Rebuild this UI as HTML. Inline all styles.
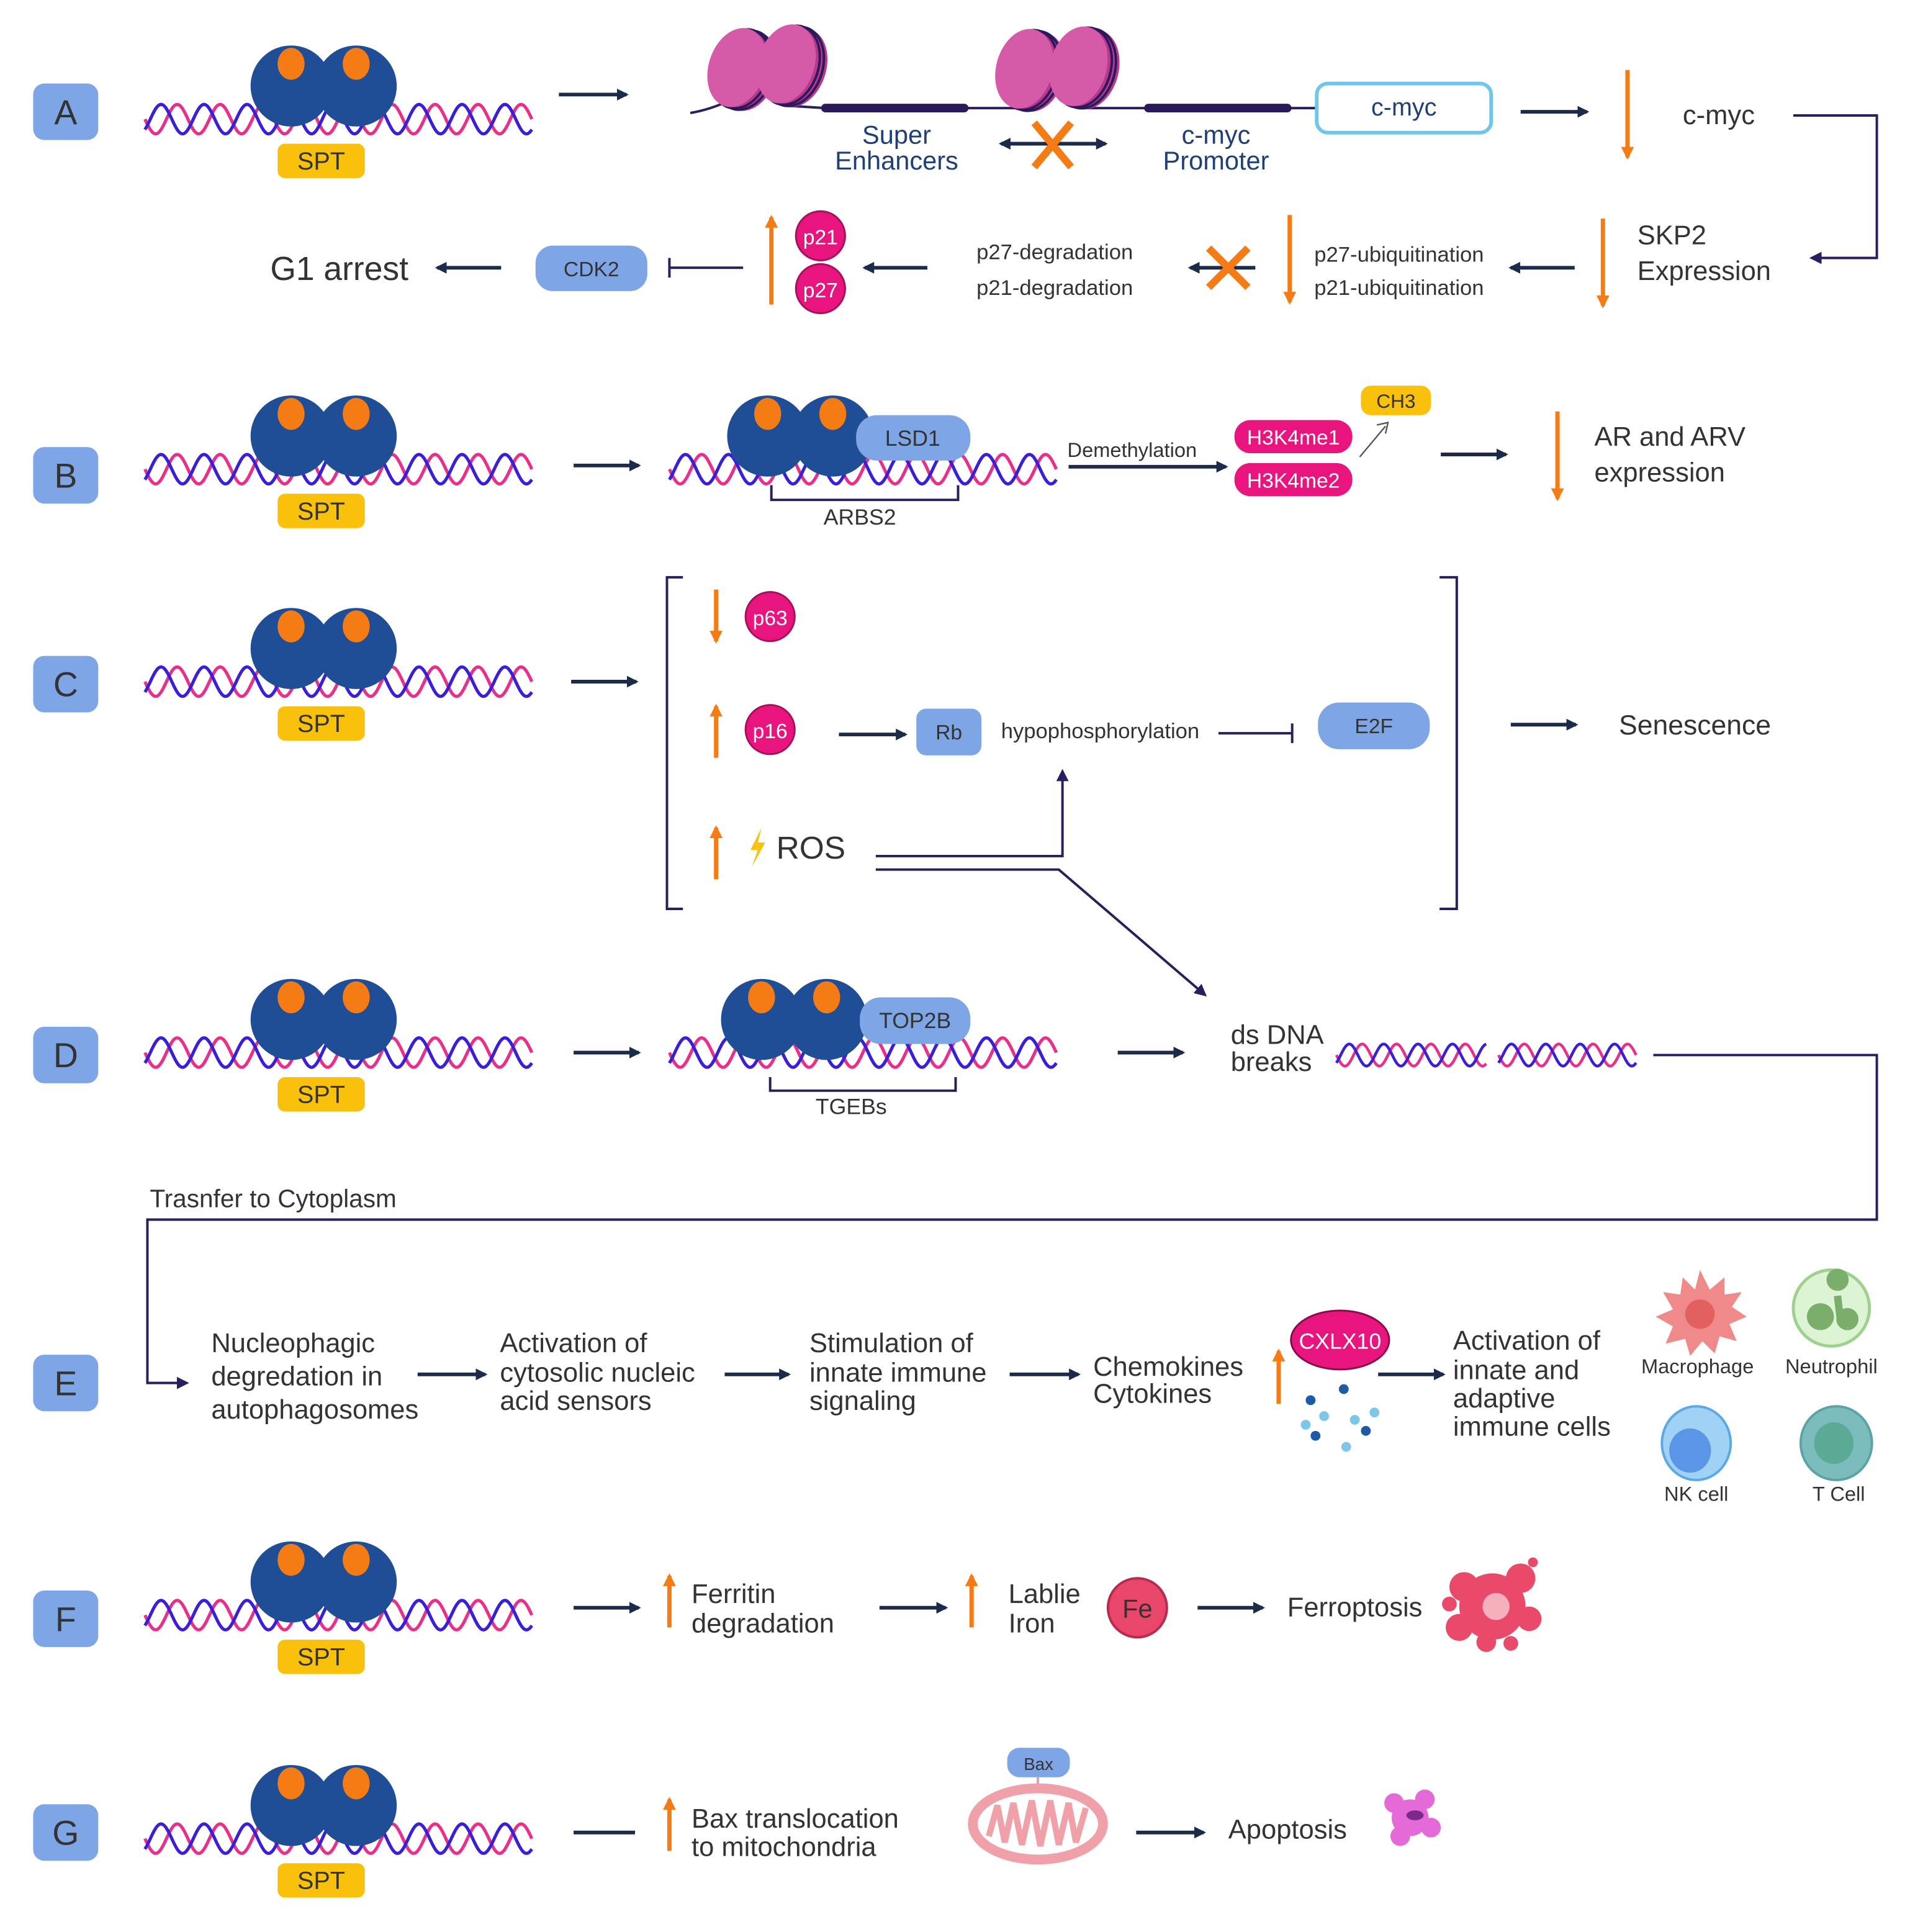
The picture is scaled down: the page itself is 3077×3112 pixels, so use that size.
<!DOCTYPE html>
<html><head><meta charset="utf-8">
<style>
html,body{margin:0;padding:0;background:#fff;}
svg{display:block;}
text{font-family:"Liberation Sans",sans-serif;fill:#333;}
</style></head>
<body>
<svg id="s" width="3077" height="3112" viewBox="0 0 1555 1573" preserveAspectRatio="none" xmlns="http://www.w3.org/2000/svg">
<defs>
<marker id="ah" viewBox="0 0 10 10" refX="8" refY="5" markerWidth="3.2" markerHeight="3.2" orient="auto-start-reverse"><path d="M0,0 L10,5 L0,10 z" fill="#1c2b4a"/></marker>
<marker id="ao" viewBox="0 0 10 10" refX="8" refY="5" markerWidth="3" markerHeight="3" orient="auto"><path d="M0,0 L10,5 L0,10 z" fill="#f57c15"/></marker>
<marker id="ap" viewBox="0 0 10 10" refX="8" refY="5" markerWidth="5" markerHeight="5" orient="auto"><path d="M0,0 L10,5 L0,10 z" fill="#2a1f5c"/></marker>
<g id="spt">
<circle cx="237" cy="-27" r="33" fill="#1f4e96"/>
<circle cx="290" cy="-27" r="33" fill="#1f4e96"/>
<ellipse cx="237" cy="-45" rx="11" ry="13" fill="#f57c15"/>
<ellipse cx="290" cy="-45" rx="11" ry="13" fill="#f57c15"/>
<rect x="226" y="20" width="71" height="28" rx="6" fill="#f9c10c"/>
<text x="261.5" y="41" font-size="20" text-anchor="middle" fill="#333">SPT</text>
</g>
<g id="nuc">
<ellipse cx="10" cy="0" rx="23" ry="33" fill="#b8388c"/>
<ellipse cx="7" cy="0" rx="23" ry="33" fill="none" stroke="#2a1a5c" stroke-width="2"/>
<ellipse cx="3.5" cy="0" rx="23" ry="33" fill="none" stroke="#2a1a5c" stroke-width="2"/>
<ellipse cx="0" cy="0" rx="23" ry="33" fill="#d55aa8"/>
</g>
</defs>
<style>
.a{stroke:#1c2b4a;stroke-width:3;fill:none;marker-end:url(#ah);}
.o{stroke:#f57c15;stroke-width:3.5;fill:none;marker-end:url(#ao);}
.l{stroke:#2a1f5c;stroke-width:2;fill:none;}
.lab{fill:#7ea6e6;}
.t{font-size:22px;}
.s{font-size:17.5px;}
.w{fill:#fff;}
</style>

<g>
<rect class="lab" x="27" y="68" width="53" height="46" rx="9"/><text x="53.5" y="101" font-size="28" text-anchor="middle">A</text>
<rect class="lab" x="27" y="364" width="53" height="46" rx="9"/><text x="53.5" y="397" font-size="28" text-anchor="middle">B</text>
<rect class="lab" x="27" y="534" width="53" height="46" rx="9"/><text x="53.5" y="567" font-size="28" text-anchor="middle">C</text>
<rect class="lab" x="27" y="836" width="53" height="46" rx="9"/><text x="53.5" y="869" font-size="28" text-anchor="middle">D</text>
<rect class="lab" x="27" y="1103" width="53" height="46" rx="9"/><text x="53.5" y="1136" font-size="28" text-anchor="middle">E</text>
<rect class="lab" x="27" y="1295" width="53" height="46" rx="9"/><text x="53.5" y="1328" font-size="28" text-anchor="middle">F</text>
<rect class="lab" x="27" y="1469" width="53" height="46" rx="9"/><text x="53.5" y="1502" font-size="28" text-anchor="middle">G</text>
</g>

<g id="helices"></g>

<use href="#spt" y="97"/>
<use href="#spt" y="382"/>
<use href="#spt" y="555"/>
<use href="#spt" y="857"/>
<use href="#spt" y="1315"/>
<use href="#spt" y="1497"/>

<!-- ROW A -->
<line class="a" x1="455" y1="77" x2="510" y2="77"/>
<path class="l" d="M562,92 C585,88 595,80 605,78 M640,86 L672,88 M785,88 L830,88 M880,88 L935,88 M1048,88 L1072,88"/>
<line x1="672" y1="88" x2="785" y2="88" stroke="#2a1a5c" stroke-width="7" stroke-linecap="round"/>
<line x1="935" y1="88" x2="1048" y2="88" stroke="#2a1a5c" stroke-width="7" stroke-linecap="round"/>
<use href="#nuc" transform="translate(600,55) rotate(18)"/>
<use href="#nuc" transform="translate(640,52) rotate(18)"/>
<use href="#nuc" transform="translate(834,56) rotate(15)"/>
<use href="#nuc" transform="translate(878,54) rotate(15)"/>
<text x="730" y="117" font-size="21" text-anchor="middle" style="fill:#1f3f7a">Super</text>
<text x="730" y="138" font-size="21" text-anchor="middle" style="fill:#1f3f7a">Enhancers</text>
<text x="990" y="117" font-size="21" text-anchor="middle" style="fill:#1f3f7a">c-myc</text>
<text x="990" y="138" font-size="21" text-anchor="middle" style="fill:#1f3f7a">Promoter</text>
<line x1="815" y1="117" x2="900" y2="117" stroke="#1c2b4a" stroke-width="3" marker-start="url(#ah)" marker-end="url(#ah)"/>
<path d="M842,100 L872,136 M872,100 L842,136" stroke="#f57c15" stroke-width="6"/>
<rect x="1072" y="68" width="142" height="40" rx="9" fill="#fff" stroke="#6ec6ea" stroke-width="3"/>
<text x="1143" y="94" font-size="20" text-anchor="middle" style="fill:#1f3f7a">c-myc</text>
<line class="a" x1="1238" y1="91" x2="1292" y2="91"/>
<line class="o" x1="1325" y1="57" x2="1325" y2="128"/>
<text x="1370" y="101" class="t">c-myc</text>
<polyline points="1460,94 1528,94 1528,210 1475,210" class="l" marker-end="url(#ap)"/>
<text x="1333" y="199" class="t">SKP2</text>
<text x="1333" y="228" class="t">Expression</text>
<line class="o" x1="1305" y1="178" x2="1305" y2="249"/>
<line class="a" x1="1282" y1="218" x2="1230" y2="218"/>
<text x="1070" y="213" class="s">p27-ubiquitination</text>
<text x="1070" y="240" class="s">p21-ubiquitination</text>
<line class="o" x1="1050" y1="175" x2="1050" y2="246"/>
<line class="a" x1="1022" y1="218" x2="969" y2="218"/>
<path d="M984,202 L1016,234 M1016,202 L984,234" stroke="#f57c15" stroke-width="6"/>
<text x="795" y="211" class="s">p27-degradation</text>
<text x="795" y="240" class="s">p21-degradation</text>
<line class="a" x1="755" y1="218" x2="704" y2="218"/>
<circle cx="668" cy="192" r="20" fill="#e8157f" stroke="#a5105a" stroke-width="1.5"/><text x="668" y="199" font-size="17" text-anchor="middle" class="w">p21</text>
<circle cx="668" cy="235" r="20" fill="#e8157f" stroke="#a5105a" stroke-width="1.5"/><text x="668" y="242" font-size="17" text-anchor="middle" class="w">p27</text>
<line x1="628" y1="248" x2="628" y2="177" stroke="#f57c15" stroke-width="3.5" marker-end="url(#ao)"/>
<line class="l" x1="605" y1="218" x2="545" y2="218"/><line class="l" x1="545" y1="210" x2="545" y2="226"/>
<rect x="436" y="200" width="91" height="37" rx="14" fill="#7ea6e6"/><text x="481.5" y="225" font-size="17" text-anchor="middle">CDK2</text>
<line class="a" x1="408" y1="218" x2="356" y2="218"/>
<text x="220" y="228" font-size="27">G1 arrest</text>

<!-- ROW B -->
<line class="a" x1="467" y1="379" x2="520" y2="379"/>
<circle cx="625" cy="355" r="33" fill="#1f4e96"/><circle cx="678" cy="355" r="33" fill="#1f4e96"/>
<ellipse cx="625" cy="337" rx="11" ry="13" fill="#f57c15"/><ellipse cx="678" cy="337" rx="11" ry="13" fill="#f57c15"/>
<rect x="697" y="338" width="93" height="37" rx="17" fill="#7ea6e6"/><text x="743" y="363" font-size="18" text-anchor="middle">LSD1</text>
<polyline class="l" points="628,395 628,407 780,407 780,395"/>
<text x="700" y="427" font-size="18" text-anchor="middle">ARBS2</text>
<text x="869" y="372" font-size="16.5">Demethylation</text>
<line class="a" x1="870" y1="380" x2="998" y2="380"/>
<rect x="1005" y="342" width="96" height="27" rx="13" fill="#e8157f"/><text x="1053" y="362" font-size="17" text-anchor="middle" class="w">H3K4me1</text>
<rect x="1005" y="377" width="96" height="27" rx="13" fill="#e8157f"/><text x="1053" y="397" font-size="17" text-anchor="middle" class="w">H3K4me2</text>
<rect x="1108" y="314" width="57" height="24" rx="8" fill="#f9c10c"/><text x="1136.5" y="332" font-size="16" text-anchor="middle">CH3</text>
<line x1="1107" y1="372" x2="1128" y2="347" stroke="#555" stroke-width="1.2"/><path d="M1121,346 L1130,344 L1128,353" stroke="#555" stroke-width="1.2" fill="none"/>
<line class="a" x1="1173" y1="370" x2="1226" y2="370"/>
<line class="o" x1="1268" y1="335" x2="1268" y2="406"/>
<text x="1298" y="363" class="t">AR and ARV</text>
<text x="1298" y="392" class="t">expression</text>

<!-- ROW C -->
<line class="a" x1="465" y1="555" x2="518" y2="555"/>
<polyline class="l" points="556,470 543,470 543,740 556,740"/>
<polyline class="l" points="1172,470 1186,470 1186,740 1172,740"/>
<line class="o" x1="583" y1="480" x2="583" y2="522"/>
<circle cx="627" cy="502" r="20" fill="#e8157f" stroke="#a5105a" stroke-width="1.5"/><text x="627" y="509" font-size="17" text-anchor="middle" class="w">p63</text>
<line class="o" x1="583" y1="617" x2="583" y2="575"/>
<circle cx="627" cy="594" r="20" fill="#e8157f" stroke="#a5105a" stroke-width="1.5"/><text x="627" y="601" font-size="17" text-anchor="middle" class="w">p16</text>
<line class="a" x1="683" y1="598" x2="737" y2="598"/>
<rect x="746" y="577" width="53" height="38" rx="8" fill="#7ea6e6"/><text x="772.5" y="602" font-size="17" text-anchor="middle">Rb</text>
<text x="815" y="601" class="s">hypophosphorylation</text>
<line class="l" x1="992" y1="597" x2="1052" y2="597"/><line class="l" x1="1052" y1="589" x2="1052" y2="605"/>
<rect x="1073" y="572" width="91" height="38" rx="17" fill="#7ea6e6"/><text x="1118.5" y="597" font-size="17" text-anchor="middle">E2F</text>
<line class="a" x1="1230" y1="590" x2="1283" y2="590"/>
<text x="1318" y="598" font-size="22.5">Senescence</text>
<line class="o" x1="583" y1="716" x2="583" y2="674"/>
<path d="M620,674 L611,692 L617,692 L612,706 L623,686 L617,686 Z" fill="#f9c10c"/>
<text x="632" y="699" font-size="26">ROS</text>
<polyline class="l" points="713,697 865,697 865,628" marker-end="url(#ap)"/>
<polyline class="l" points="713,708 862,708 981,810" marker-end="url(#ap)"/>

<!-- ROW D -->
<line class="a" x1="467" y1="857" x2="520" y2="857"/>
<circle cx="620" cy="830" r="33" fill="#1f4e96"/><circle cx="673" cy="830" r="33" fill="#1f4e96"/>
<ellipse cx="620" cy="812" rx="11" ry="13" fill="#f57c15"/><ellipse cx="673" cy="812" rx="11" ry="13" fill="#f57c15"/>
<rect x="700" y="812" width="90" height="38" rx="17" fill="#7ea6e6"/><text x="745" y="837" font-size="18" text-anchor="middle">TOP2B</text>
<polyline class="l" points="627,877 627,888 778,888 778,877"/>
<text x="693" y="907" font-size="18" text-anchor="middle">TGEBs</text>
<line class="a" x1="910" y1="857" x2="963" y2="857"/>
<text x="1002" y="850" class="t">ds DNA</text>
<text x="1002" y="872" class="t">breaks</text>
<polyline class="l" points="1346,859 1528,859 1528,993 120,993 120,1126 152,1126" marker-end="url(#ap)"/>
<text x="122" y="983" font-size="20.5">Trasnfer to Cytoplasm</text>

<!-- ROW E -->
<text x="172" y="1101" class="t">Nucleophagic</text>
<text x="172" y="1128" class="t">degredation in</text>
<text x="172" y="1155" class="t">autophagosomes</text>
<line class="a" x1="340" y1="1119" x2="395" y2="1119"/>
<text x="407" y="1101" class="t">Activation of</text>
<text x="407" y="1125" class="t">cytosolic nucleic</text>
<text x="407" y="1148" class="t">acid sensors</text>
<line class="a" x1="590" y1="1119" x2="642" y2="1119"/>
<text x="659" y="1101" class="t">Stimulation of</text>
<text x="659" y="1125" class="t">innate immune</text>
<text x="659" y="1148" class="t">signaling</text>
<line class="a" x1="822" y1="1119" x2="878" y2="1119"/>
<text x="890" y="1120" class="t">Chemokines</text>
<text x="890" y="1142" class="t">Cytokines</text>
<line class="o" x1="1041" y1="1143" x2="1041" y2="1100"/>
<ellipse cx="1091" cy="1091" rx="40" ry="24" fill="#e8157f" stroke="#8a0b47" stroke-width="1.5"/>
<text x="1091" y="1098" font-size="18" text-anchor="middle" class="w">CXLX10</text>
<g fill="#1f5aa6"><circle cx="1094" cy="1131" r="4"/><circle cx="1067" cy="1140" r="4"/><circle cx="1071" cy="1169" r="4"/><circle cx="1112" cy="1165" r="4"/></g>
<g fill="#7cc6ea"><circle cx="1078" cy="1153" r="4"/><circle cx="1063" cy="1160" r="4"/><circle cx="1103" cy="1156" r="4"/><circle cx="1119" cy="1150" r="4"/><circle cx="1096" cy="1178" r="4"/></g>
<line class="a" x1="1122" y1="1119" x2="1175" y2="1119"/>
<text x="1183" y="1099" class="t">Activation of</text>
<text x="1183" y="1123" class="t">innate and</text>
<text x="1183" y="1146" class="t">adaptive</text>
<text x="1183" y="1169" class="t">immune cells</text>
<g>
<path d="M1384,1034 L1392,1050 L1404,1040 L1404,1054 L1418,1052 L1410,1064 L1422,1072 L1408,1078 L1414,1092 L1400,1088 L1396,1102 L1386,1092 L1376,1104 L1372,1090 L1356,1094 L1362,1080 L1348,1072 L1362,1066 L1354,1052 L1368,1054 L1370,1040 L1380,1050 Z" fill="#f08a8a"/>
<circle cx="1384" cy="1070" r="12" fill="#e2605e"/>
<text x="1382" y="1118" font-size="16.5" text-anchor="middle">Macrophage</text>
<circle cx="1491" cy="1065" r="31" fill="#dcf3d4" stroke="#9ed08e" stroke-width="2.5"/>
<path d="M1496,1048 a6,6 0 1 1 0.1,0 M1496,1055 L1498,1072 M1482,1080 a8,8 0 1 1 0.1,0 M1504,1080 a6,6 0 1 1 0.1,0" stroke="#7aae6a" stroke-width="6" fill="#7aae6a"/>
<text x="1491" y="1118" font-size="16.5" text-anchor="middle">Neutrophil</text>
<ellipse cx="1381" cy="1175" rx="28" ry="30" fill="#9fd2f5" stroke="#5aa8e6" stroke-width="2"/>
<ellipse cx="1376" cy="1181" rx="17" ry="18" fill="#5b95e8"/>
<text x="1381" y="1222" font-size="16.5" text-anchor="middle">NK cell</text>
<ellipse cx="1495" cy="1175" rx="29" ry="30" fill="#7cbcbc" stroke="#5aa4a8" stroke-width="2"/>
<ellipse cx="1493" cy="1175" rx="16" ry="17" fill="#5aaa96"/>
<text x="1497" y="1222" font-size="16.5" text-anchor="middle">T Cell</text>
</g>

<!-- ROW F -->
<line class="a" x1="467" y1="1309" x2="520" y2="1309"/>
<line class="o" x1="545" y1="1325" x2="545" y2="1283"/>
<text x="563" y="1305" class="t">Ferritin</text>
<text x="563" y="1329" class="t">degradation</text>
<line class="a" x1="716" y1="1309" x2="770" y2="1309"/>
<line class="o" x1="791" y1="1325" x2="791" y2="1283"/>
<text x="821" y="1305" class="t">Lablie</text>
<text x="821" y="1329" class="t">Iron</text>
<circle cx="926" cy="1309" r="24" fill="#e8466a" stroke="#b82a4e" stroke-width="2"/>
<text x="926" y="1317" font-size="21" text-anchor="middle">Fe</text>
<line class="a" x1="975" y1="1309" x2="1028" y2="1309"/>
<text x="1048" y="1316" class="t">Ferroptosis</text>
<g fill="#ea4a6a">
<circle cx="1215" cy="1308" r="27"/><circle cx="1192" cy="1292" r="12"/><circle cx="1238" cy="1285" r="12"/><circle cx="1245" cy="1318" r="10"/><circle cx="1188" cy="1325" r="11"/><circle cx="1210" cy="1337" r="8"/><circle cx="1230" cy="1338" r="6"/><circle cx="1248" cy="1272" r="4"/><circle cx="1180" cy="1306" r="6"/>
</g>
<circle cx="1218" cy="1308" r="11" fill="#f4b0bc"/>

<!-- ROW G -->
<line x1="467" y1="1492" x2="517" y2="1492" stroke="#1c2b4a" stroke-width="3"/>
<line class="o" x1="545" y1="1507" x2="545" y2="1465"/>
<text x="563" y="1488" class="t">Bax translocation</text>
<text x="563" y="1511" class="t">to mitochondria</text>
<line x1="845" y1="1447" x2="845" y2="1460" stroke="#e0a0a8" stroke-width="2"/>
<ellipse cx="845" cy="1485" rx="53" ry="29" fill="#fff" stroke="#f0a0a8" stroke-width="8"/>
<path d="M805,1495 L812,1470 L818,1500 L825,1468 L832,1502 L840,1466 L847,1503 L855,1466 L862,1502 L870,1468 L876,1500 L884,1472" stroke="#f0a0a8" stroke-width="5" fill="none"/>
<rect x="820" y="1423" width="51" height="24" rx="10" fill="#7ea6e6"/><text x="845.5" y="1441" font-size="14" text-anchor="middle">Bax</text>
<line class="a" x1="925" y1="1492" x2="980" y2="1492"/>
<text x="1000" y="1497" class="t">Apoptosis</text>
<g fill="#e46ad8"><circle cx="1148" cy="1480" r="15"/><circle cx="1135" cy="1468" r="8"/><circle cx="1160" cy="1465" r="8"/><circle cx="1165" cy="1488" r="8"/><circle cx="1140" cy="1495" r="8"/></g>
<ellipse cx="1152" cy="1478" rx="7" ry="4" fill="#7a2a8a"/>
</svg>
<script>
(function(){
var NS="http://www.w3.org/2000/svg",g=document.getElementById("helices");
function helix(x0,x1,yc,A,P,w){
  var cols=["#e8308a","#3a1fd8"];
  for(var k=0;k<2;k++){
    var d="";
    for(var x=x0;x<=x1;x+=1){
      var y=yc+A*Math.sin(2*Math.PI*(x-x0)/P+k*Math.PI*0.75);
      d+=(x==x0?"M":"L")+x+","+y.toFixed(2);
    }
    var p=document.createElementNS(NS,"path");
    p.setAttribute("d",d);p.setAttribute("stroke",cols[k]);p.setAttribute("stroke-width",w);p.setAttribute("fill","none");
    g.appendChild(p);
  }
}
[97,382,555,857,1315,1497].forEach(function(y){helix(118,433,y,12,35,2.6);});
helix(545,860,382,12,35,2.6);
helix(545,860,857,12,35,2.6);
helix(1088,1210,859,9,28,2.3);
helix(1220,1332,859,9,28,2.3);
})();
</script>
</body></html>
